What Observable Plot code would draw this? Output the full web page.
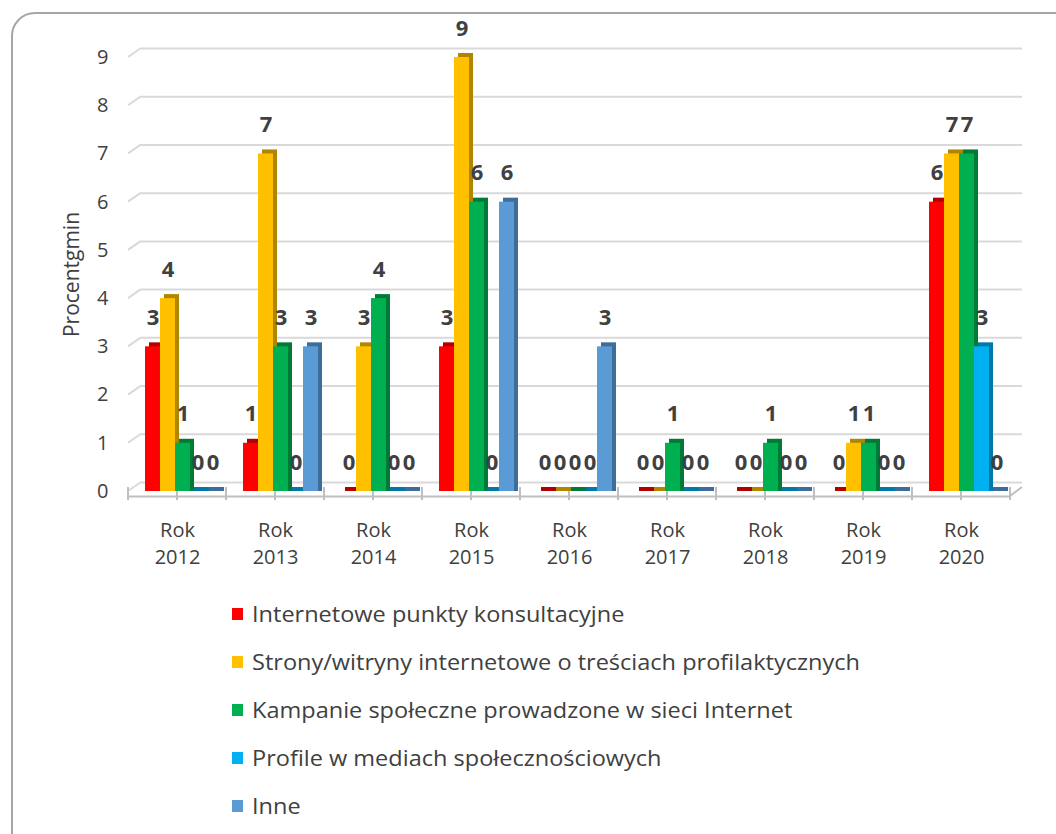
<!DOCTYPE html>
<html>
<head>
<meta charset="utf-8">
<script src="https://cdn.jsdelivr.net/npm/d3@7"></script>
<script src="https://cdn.jsdelivr.net/npm/@observablehq/plot@0.6"></script>
<style>
  html, body { margin: 0; padding: 0; background: #fff; overflow: hidden; width: 1056px; height: 834px; }
  #frame { position: absolute; left: 11px; top: 12px; width: 1100px; height: 900px; border: 2px solid #a6a6a6; border-radius: 24px; box-sizing: border-box; }
  #chart { position: absolute; left: 0; top: 0; width: 1056px; height: 600px; }
  #chart svg { position: absolute; left: 0; top: 0; }
  #legend { position: absolute; left: 0; top: 0; font-family: "Open Sans", sans-serif; font-size: 21px; color: #404040; }
  .row { position: absolute; left: 232px; height: 28px; display: flex; align-items: center; white-space: nowrap; }
  .sw { width: 11px; height: 12px; margin-right: 9px; flex: none; }
  .lt { display: inline-block; transform: scaleX(1.12); transform-origin: left center; }
</style>
</head>
<body>
<div id="frame"></div>
<div id="chart"></div>
<div id="legend"></div>
<script>
const years = ["Rok 2012", "Rok 2013", "Rok 2014", "Rok 2015", "Rok 2016", "Rok 2017", "Rok 2018", "Rok 2019", "Rok 2020"];
const series = [
  "Internetowe punkty konsultacyjne",
  "Strony/witryny internetowe o treściach profilaktycznych",
  "Kampanie społeczne prowadzone w sieci Internet",
  "Profile w mediach społecznościowych",
  "Inne"
];
const konsultacyjne = [3, 1, 0, 3, 0, 0, 0, 0, 6];
const strony        = [4, 7, 3, 9, 0, 0, 0, 1, 7];
const kampanie      = [1, 3, 4, 6, 0, 1, 1, 1, 7];
const profile       = [0, 0, 0, 0, 0, 0, 0, 0, 3];
const inne          = [0, 3, 0, 6, 3, 0, 0, 0, 0];
const yTicks = [0, 1, 2, 3, 4, 5, 6, 7, 8, 9];
const colors = ["#FF0000", "#FFC000", "#00B050", "#00B0F0", "#5B9BD5"];
const darkColors = ["#B00000", "#B08500", "#007A37", "#0079A8", "#3D6D98"];
const axisTitle = "Procentgmin";

const valuesBySeries = [konsultacyjne, strony, kampanie, profile, inne];
const rows = [];
years.forEach((year, i) => {
  series.forEach((s, j) => {
    rows.push({year, series: s, value: valuesBySeries[j][i], color: colors[j], dark: darkColors[j]});
  });
});

const W = 1056, H = 600, ML = 128, MR = 46, MT = 57, MB = 109;
const font = {fontFamily: "'Open Sans', sans-serif", fontSize: "20px", color: "#404040", background: "transparent", overflow: "visible"};

// Back layer: axes, grid, floor
const back = Plot.plot({
  width: W, height: H, marginLeft: ML, marginRight: MR, marginTop: MT, marginBottom: MB,
  style: font,
  x: {type: "point", domain: years, padding: 0.5},
  y: {domain: [0, 9]},
  marks: [
    Plot.ruleY(yTicks, {dy: -9, insetLeft: 13, insetRight: -12, stroke: "#d9d9d9", strokeWidth: 2}),
    Plot.ruleY([0], {dy: 5, stroke: "#bfbfbf", strokeWidth: 2}),
    Plot.axisY(yTicks, {tickSize: 0, tickPadding: 20, label: null}),
    Plot.axisX({tickSize: 0, tickPadding: 26, label: null, lineHeight: 1.35, tickFormat: d => d.replace(" ", "\n")}),
    Plot.text([axisTitle], {frameAnchor: "left", textAnchor: "middle", rotate: -90, dx: -56, fontSize: 21, text: d => d})
  ]
});

// Decorations using the plot's own scales
{
  const xs = back.scale("x"), ys = back.scale("y");
  const svg = d3.select(back);
  const g = svg.insert("g", ":first-child").attr("stroke", "#d9d9d9").attr("stroke-width", 2).attr("fill", "none");
  const x0 = xs.apply(years[0]) - xs.step / 2;
  yTicks.forEach(v => {
    const y = ys.apply(v);
    g.append("line").attr("x1", x0).attr("y1", y).attr("x2", x0 + 13).attr("y2", y - 9);
  });
  const y0 = ys.apply(0);
  const gt = svg.append("g").attr("stroke", "#bfbfbf").attr("stroke-width", 2);
  const n = years.length * 2;
  for (let k = 0; k <= n; k++) {
    const x = x0 + k * xs.step / 2;
    gt.append("line").attr("x1", x).attr("x2", x).attr("y1", y0 - 4).attr("y2", y0 + 9);
  }
  const xEnd = xs.apply(years[years.length - 1]) + xs.step / 2;
  gt.append("line").attr("x1", xEnd).attr("y1", y0 + 5).attr("x2", xEnd + 12).attr("y2", y0 - 4);
}

// Front layer: 3D-ish bars and labels
const front = Plot.plot({
  width: W, height: H, marginLeft: ML, marginRight: MR, marginTop: MT, marginBottom: MB,
  style: font,
  fx: {domain: years, paddingInner: 0.2, paddingOuter: 0.1, axis: null, label: null},
  x: {domain: series, padding: 0, axis: null},
  y: {domain: [0, 9], axis: null},
  color: {type: "identity"},
  marks: [
    Plot.barY(rows, {fx: "year", x: "series", y: "value", fill: "dark", dx: 9, dy: -4, insetBottom: -4}),
    Plot.barY(rows, {fx: "year", x: "series", y: "value", fill: "color", dx: 5}),
    Plot.text(rows, {fx: "year", x: "series", y: "value", text: d => String(d.value), dx: 5, dy: -29, fontWeight: "bold", fontSize: 22, fill: "#404040"})
  ]
});

const chart = document.getElementById("chart");
chart.appendChild(back);
chart.appendChild(front);

// Legend
const legend = document.getElementById("legend");
const legendCenters = [614, 662, 710, 758, 806];
series.forEach((s, j) => {
  const row = document.createElement("div");
  row.className = "row";
  row.style.top = (legendCenters[j] - 14) + "px";
  const sw = document.createElement("span");
  sw.className = "sw";
  sw.style.background = colors[j];
  const t = document.createElement("span");
  t.className = "lt";
  t.textContent = s;
  row.appendChild(sw);
  row.appendChild(t);
  legend.appendChild(row);
});
</script>
</body>
</html>
